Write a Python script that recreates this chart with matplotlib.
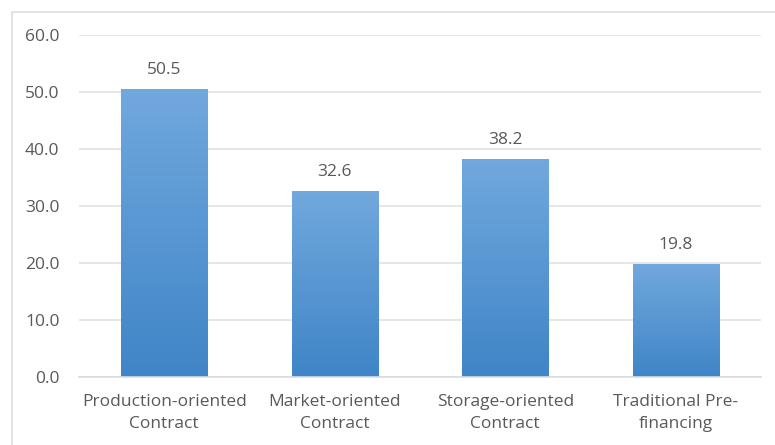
import numpy as np
import matplotlib.pyplot as plt
from matplotlib.patches import Rectangle

categories = ["Production-oriented\nContract", "Market-oriented\nContract",
              "Storage-oriented\nContract", "Traditional Pre-\nfinancing"]
values = [50.5, 32.6, 38.2, 19.8]
yticks = [0, 10, 20, 30, 40, 50, 60]

plt.rcParams['font.family'] = ['Open Sans', 'DejaVu Sans']
text_color = "#595959"

fig = plt.figure(figsize=(7.75, 4.45), dpi=100)
ax = fig.add_axes([0.1019, 0.1528, 0.880, 0.7685])

# chart border (cropped on right and bottom)
fig.patches.append(Rectangle((12 / 775, -0.1), 1.2, 1 - 12 / 445 + 0.1,
                             transform=fig.transFigure, fill=False,
                             edgecolor="#d9dde3", linewidth=1.2))

x = np.arange(len(categories))
bars = ax.bar(x, values, width=0.505, color="none", zorder=2)

# vertical gradient on each bar, light top to dark bottom
grad = np.linspace(0, 1, 256).reshape(-1, 1)
cmap = plt.matplotlib.colors.LinearSegmentedColormap.from_list(
    "bar", ["#3f85c7", "#71a8de"])
for b in bars:
    x0, y0 = b.get_x(), b.get_y()
    w, h = b.get_width(), b.get_height()
    im = ax.imshow(grad, extent=[x0, x0 + w, y0, y0 + h], origin="lower",
                   cmap=cmap, aspect="auto", zorder=2)
    im.set_clip_path(b)

for xi, v in zip(x, values):
    ax.annotate(f"{v:.1f}", (xi, v), xytext=(0, 8), textcoords="offset points",
                ha="center", va="bottom", fontsize=12.5, color=text_color)

ax.set_xlim(-0.5, len(categories) - 0.5)
ax.set_ylim(0, 60)
ax.set_yticks(yticks)
ax.set_yticklabels([f"{t:.1f}" for t in yticks])
ax.set_xticks(x)
ax.set_xticklabels(categories, linespacing=1.55)
ax.grid(axis="y", color="#dfe2e6", linewidth=1.2, zorder=0)
ax.set_axisbelow(True)
for s in ["top", "right", "left"]:
    ax.spines[s].set_visible(False)
ax.spines["bottom"].set_color("#d9dde3")
ax.spines["bottom"].set_linewidth(1.2)
ax.tick_params(axis="both", length=0, labelsize=12.5, colors=text_color)
ax.tick_params(axis="y", pad=14)
ax.tick_params(axis="x", pad=12)

fig.savefig("out.png", dpi=100)
